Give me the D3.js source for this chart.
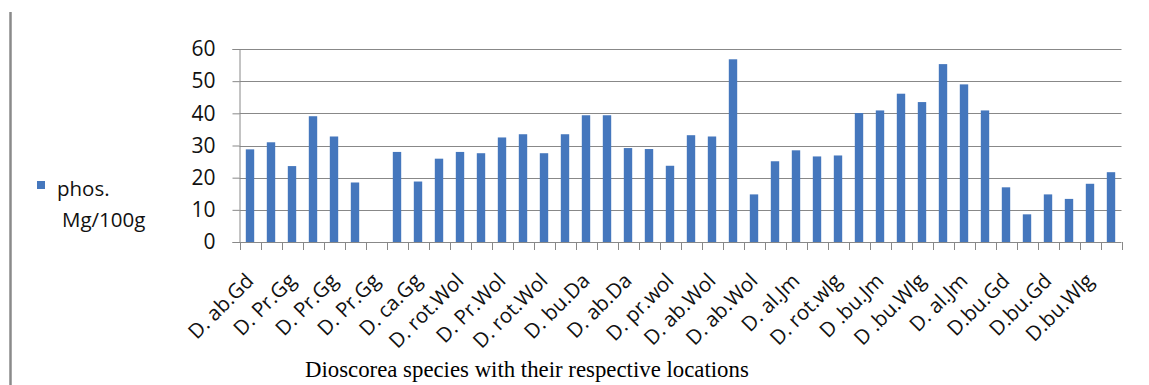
<!DOCTYPE html>
<html>
<head>
<meta charset="utf-8">
<script src="https://cdn.jsdelivr.net/npm/d3@7"></script>
<style>
  html, body { margin: 0; padding: 0; background: #fff; }
  svg { display: block; }
  .tick text { font-family: "Open Sans", sans-serif; fill: #111; }
</style>
</head>
<body>
<svg id="chart" width="1149" height="385"></svg>
<script>
// Species / location codes; only every other category carries a printed label
const categories = [
  "D. ab.Gd", "", "D. Pr.Gg", "", "D. Pr.Gg", "", "D. Pr.Gg", "",
  "D. ca.Gg", "", "D. rot.Wol", "", "D. Pr.Wol", "", "D. rot.Wol", "",
  "D. bu.Da", "", "D. ab.Da", "", "D. pr.wol", "", "D. ab.Wol", "",
  "D. ab.Wol", "", "D. al.Jm", "", "D. rot.wlg", "", "D .bu.Jm", "",
  "D .bu.Wlg", "", "D. al.Jm", "", "D.bu.Gd", "", "D.bu.Gd", "",
  "D.bu.Wlg", ""
];

// Phosphorus content, Mg/100g (one sample has no value)
const phosphorus = [
  28.8, 31.0, 23.6, 39.1, 32.8, 18.5, null, 28.0, 18.8, 25.9,
  28.0, 27.6, 32.5, 33.5, 27.6, 33.5, 39.4, 39.4, 29.2, 28.9,
  23.7, 33.2, 32.8, 56.8, 14.8, 25.1, 28.5, 26.6, 26.9, 40.1,
  40.9, 46.1, 43.5, 55.3, 49.0, 40.9, 17.0, 8.6, 14.8, 13.4,
  18.1, 21.7
];

const yTicks = [0, 10, 20, 30, 40, 50, 60];
const seriesName = ["phos.", "Mg/100g"];
const xTitle = "Dioscorea species with their respective locations";

const svg = d3.select("#chart");
const plot = { left: 239.5, right: 1121.5, top: 49, bottom: 242 };
const barColor = "#4577bd";
const gridColor = "#888888";
const sans = "'Open Sans', sans-serif";

// frame line on the left edge
svg.append("line")
  .attr("x1", 10.5).attr("x2", 10.5)
  .attr("y1", 12).attr("y2", 385)
  .attr("stroke", "#8a8a8a").attr("stroke-width", 2.5);

const idx = d3.range(categories.length);
const x = d3.scaleBand().domain(idx).range([plot.left, plot.right]).padding(0);
const y = d3.scaleLinear().domain([0, 60]).range([plot.bottom, plot.top]);

// horizontal gridlines
svg.append("g")
  .selectAll("line")
  .data(yTicks.slice(1))
  .join("line")
  .attr("x1", plot.left).attr("x2", plot.right)
  .attr("y1", d => Math.round(y(d)) + 0.5).attr("y2", d => Math.round(y(d)) + 0.5)
  .attr("stroke", gridColor).attr("stroke-width", 1);

// bars
const barW = x.bandwidth() * 0.4;
svg.append("g")
  .selectAll("rect")
  .data(idx.filter(i => phosphorus[i] != null))
  .join("rect")
  .attr("x", i => x(i) + (x.bandwidth() - barW) / 2)
  .attr("width", barW)
  .attr("y", i => y(phosphorus[i]))
  .attr("height", i => y(0) - y(phosphorus[i]))
  .attr("fill", barColor);

// y axis
const yAxis = d3.axisLeft(y).tickValues(yTicks).tickSize(7).tickPadding(17);
const gy = svg.append("g")
  .attr("transform", `translate(${plot.left},0)`)
  .call(yAxis);
gy.select(".domain").attr("stroke", gridColor);
gy.selectAll(".tick line").attr("stroke", gridColor);
gy.selectAll(".tick text").style("font-size", "21px");

// x axis: ticks on category boundaries
const gx = svg.append("g");
gx.append("line")
  .attr("x1", plot.left).attr("x2", plot.right)
  .attr("y1", plot.bottom + 0.5).attr("y2", plot.bottom + 0.5)
  .attr("stroke", gridColor);
gx.selectAll("line.tk")
  .data(d3.range(categories.length + 1))
  .join("line")
  .attr("class", "tk")
  .attr("x1", i => Math.round(plot.left + i * x.step()) + 0.5)
  .attr("x2", i => Math.round(plot.left + i * x.step()) + 0.5)
  .attr("y1", plot.bottom).attr("y2", plot.bottom + 8)
  .attr("stroke", gridColor);

// rotated category labels
gx.selectAll("text")
  .data(idx.filter(i => categories[i] !== ""))
  .join("text")
  .attr("transform", i => `translate(${x(i) + x.bandwidth() / 2 + 5},${plot.bottom + 40}) rotate(-45)`)
  .attr("text-anchor", "end")
  .style("font-family", sans)
  .style("font-size", "20.5px")
  .attr("fill", "#111")
  .text(i => categories[i]);

// axis title
svg.append("text")
  .attr("x", 305).attr("y", 377)
  .style("font-family", "'Liberation Serif', 'Times New Roman', serif")
  .style("font-size", "22.8px")
  .attr("fill", "#000")
  .text(xTitle);

// legend
const lg = svg.append("g");
lg.append("rect")
  .attr("x", 37).attr("y", 181).attr("width", 8).attr("height", 8)
  .attr("fill", barColor);
lg.append("text")
  .attr("x", 57).attr("y", 196)
  .style("font-family", sans).style("font-size", "20.5px")
  .attr("fill", "#111")
  .text(seriesName[0]);
lg.append("text")
  .attr("x", 62).attr("y", 227)
  .style("font-family", sans).style("font-size", "20.5px")
  .attr("fill", "#111")
  .text(seriesName[1]);
</script>
</body>
</html>
